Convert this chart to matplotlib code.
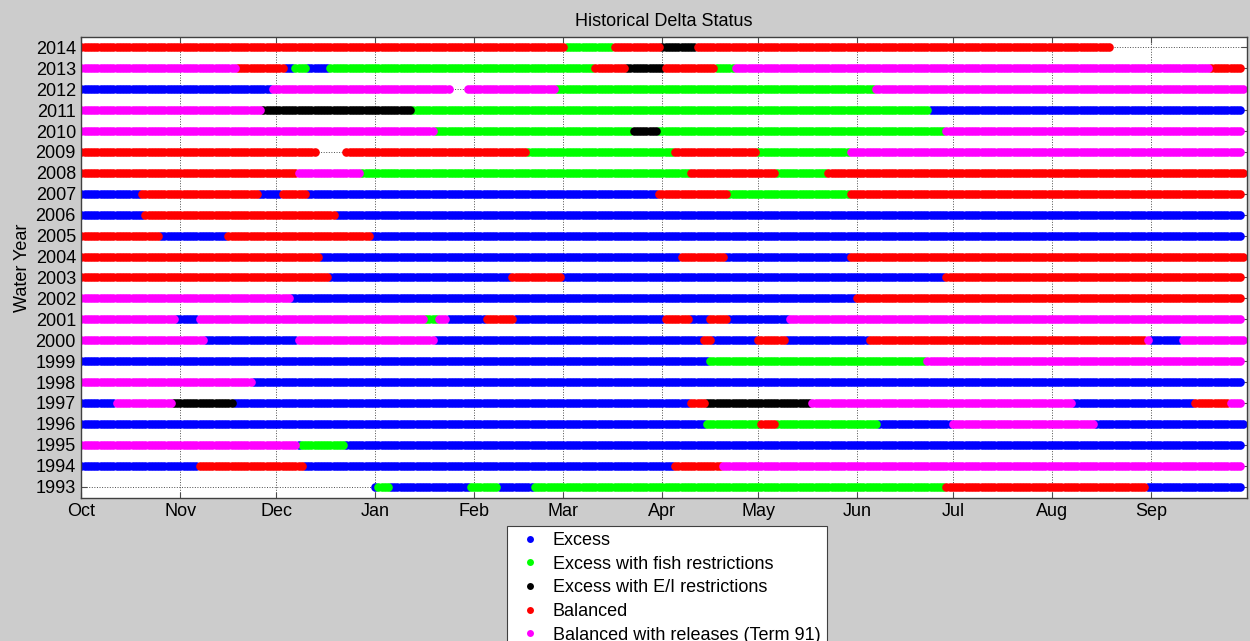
import numpy as np
import matplotlib.pyplot as plt
from matplotlib.lines import Line2D

plt.rcParams['font.family'] = ['Liberation Sans', 'DejaVu Sans']

# status categories (legend order = draw order)
status_codes = ['E', 'F', 'I', 'B', 'R']
status_names = ['Excess', 'Excess with fish restrictions', 'Excess with E/I restrictions',
                'Balanced', 'Balanced with releases (Term 91)']
status_colors = ['#0000ff', '#00ff00', '#000000', '#ff0000', '#ff00ff']

month_labels = ['Oct', 'Nov', 'Dec', 'Jan', 'Feb', 'Mar', 'Apr', 'May', 'Jun', 'Jul', 'Aug', 'Sep']
month_start_day = [0, 31, 61, 92, 123, 151, 182, 212, 243, 273, 304, 335]

# each water year: (day of water year where a run starts, status); None = no data
# last entry only closes the row (365 days, 366 in leap years)
wy2014 = [(0, 'B'), (153, 'F'), (168, 'B'), (183, 'I'), (194, 'B'), (324, None), (365, None)]
wy2013 = [(0, 'R'), (50, 'B'), (65, 'E'), (68, 'F'), (72, 'E'), (79, 'F'), (162, 'B'), (172, 'I'),
          (184, 'B'), (200, 'F'), (206, 'R'), (355, 'B'), (365, None)]
wy2012 = [(0, 'E'), (61, 'R'), (117, None), (122, 'R'), (150, 'F'), (250, 'R'), (366, None)]
wy2011 = [(0, 'R'), (58, 'I'), (105, 'F'), (267, 'E'), (365, None)]
wy2010 = [(0, 'R'), (112, 'F'), (174, 'I'), (182, 'F'), (272, 'R'), (365, None)]
wy2009 = [(0, 'B'), (75, None), (84, 'B'), (141, 'F'), (187, 'B'), (213, 'F'), (242, 'R'), (365, None)]
wy2008 = [(0, 'B'), (69, 'R'), (89, 'F'), (192, 'B'), (219, 'F'), (235, 'B'), (366, None)]
wy2007 = [(0, 'E'), (20, 'B'), (57, 'E'), (64, 'B'), (72, 'E'), (182, 'B'), (204, 'F'), (242, 'B'), (365, None)]
wy2006 = [(0, 'E'), (21, 'B'), (81, 'E'), (365, None)]
wy2005 = [(0, 'B'), (26, 'E'), (47, 'B'), (92, 'E'), (365, None)]
wy2004 = [(0, 'B'), (76, 'E'), (189, 'B'), (203, 'E'), (242, 'B'), (366, None)]
wy2003 = [(0, 'B'), (79, 'E'), (136, 'B'), (152, 'E'), (272, 'B'), (365, None)]
wy2002 = [(0, 'R'), (67, 'E'), (244, 'B'), (365, None)]
wy2001 = [(0, 'R'), (31, 'E'), (38, 'R'), (109, 'F'), (113, 'R'), (116, 'E'), (128, 'B'), (137, 'E'),
          (184, 'B'), (192, 'E'), (198, 'B'), (204, 'E'), (223, 'R'), (365, None)]
wy2000 = [(0, 'R'), (40, 'E'), (69, 'R'), (112, 'E'), (196, 'B'), (199, 'E'), (213, 'B'), (222, 'E'),
          (248, 'B'), (335, 'R'), (336, 'E'), (346, 'R'), (366, None)]
wy1999 = [(0, 'E'), (198, 'F'), (266, 'R'), (365, None)]
wy1998 = [(0, 'R'), (55, 'E'), (365, None)]
wy1997 = [(0, 'E'), (12, 'R'), (30, 'I'), (49, 'E'), (192, 'B'), (197, 'I'), (230, 'R'), (312, 'E'),
          (350, 'B'), (361, 'R'), (365, None)]
wy1996 = [(0, 'E'), (197, 'F'), (214, 'B'), (219, 'F'), (251, 'E'), (274, 'R'), (319, 'E'), (366, None)]
wy1995 = [(0, 'R'), (69, 'E'), (70, 'F'), (84, 'E'), (365, None)]
wy1994 = [(0, 'E'), (38, 'B'), (71, 'E'), (187, 'B'), (202, 'R'), (365, None)]
wy1993 = [(0, None), (93, 'E'), (94, 'F'), (98, 'E'), (123, 'F'), (132, 'E'), (143, 'F'), (272, 'B'),
          (335, 'E'), (365, None)]

years = list(range(1993, 2015))
rows = {1993: wy1993, 1994: wy1994, 1995: wy1995, 1996: wy1996, 1997: wy1997, 1998: wy1998,
        1999: wy1999, 2000: wy2000, 2001: wy2001, 2002: wy2002, 2003: wy2003, 2004: wy2004,
        2005: wy2005, 2006: wy2006, 2007: wy2007, 2008: wy2008, 2009: wy2009, 2010: wy2010,
        2011: wy2011, 2012: wy2012, 2013: wy2013, 2014: wy2014}

day_shift = -1.0  # where day 0 sits on the month axis

# expand runs into daily points, grouped by status
pts = {c: ([], []) for c in status_codes}
for yr in years:
    segs = rows[yr]
    for (start, code), (end, _) in zip(segs[:-1], segs[1:]):
        if code is None:
            continue
        d = np.arange(start, end)
        pts[code][0].extend(d + day_shift)
        pts[code][1].extend([yr] * len(d))

fig = plt.figure(figsize=(12.5, 6.41), dpi=100)
fig.patch.set_facecolor('#cccccc')
ax = fig.add_axes([81.5 / 1250, 1 - 497.7 / 641, (1246.5 - 81.5) / 1250, (497.7 - 37.3) / 641])

for code, col in zip(status_codes, status_colors):
    ax.plot(pts[code][0], pts[code][1], linestyle='none', marker='o', ms=6.2, mew=0, color=col)

ax.set_xlim(0, 365)
ax.set_ylim(1992.47, 2014.48)
ax.set_xticks(month_start_day)
ax.set_xticklabels(month_labels)
ax.set_yticks(years)
ax.set_yticklabels([str(y) for y in years])

ax.grid(True, linestyle=':', color='0.3', linewidth=0.7)
ax.set_axisbelow(True)
ax.tick_params(direction='in', top=True, right=True, length=4, width=0.8, color='0.3',
               labelsize=13, pad=4)
for sp in ax.spines.values():
    sp.set_color('0.25')
    sp.set_linewidth(1.0)

ax.set_title('Historical Delta Status', fontsize=13, pad=8)
ax.set_ylabel('Water Year', fontsize=13, labelpad=3)

handles = [Line2D([], [], linestyle='none', marker='o', ms=5, mew=0, color=c) for c in status_colors]
leg = fig.legend(handles, status_names, loc='upper left', bbox_to_anchor=(506.7 / 1250, 1 - 525.7 / 641),
                 bbox_transform=fig.transFigure, borderaxespad=0, fontsize=13, frameon=True,
                 fancybox=False, framealpha=1, handlelength=1.9, handletextpad=0.3, borderpad=0.35,
                 labelspacing=0.37)
leg.get_frame().set_edgecolor('0.25')
leg.get_frame().set_linewidth(0.8)
leg.get_frame().set_facecolor('white')

fig.savefig('out.png', dpi=100, facecolor=fig.get_facecolor())
